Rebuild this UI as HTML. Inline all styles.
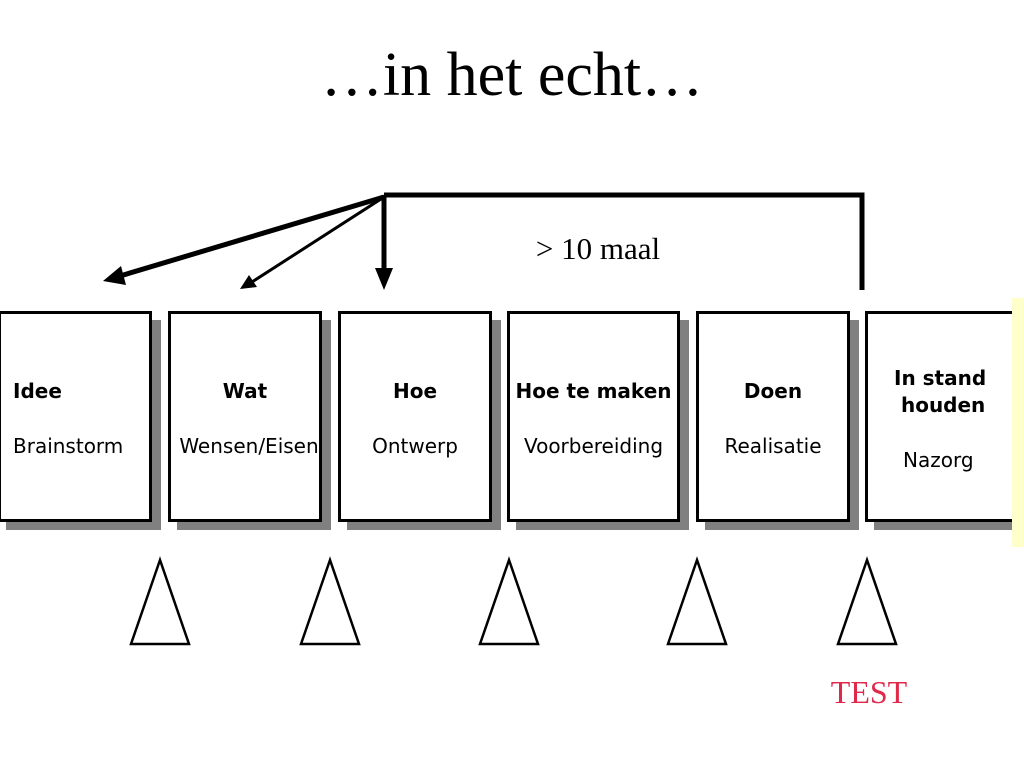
<!DOCTYPE html>
<html><head><meta charset="utf-8"><style>
body{margin:0;width:1024px;height:768px;background:#fff;position:relative;overflow:hidden;font-family:"DejaVu Sans","Liberation Sans",sans-serif}
.t{position:absolute;left:0;width:1024px;top:40px;text-align:center;font:62px "Liberation Serif",serif}
.sh{position:absolute;background:#808080}
.b{position:absolute;background:#fff;border:3px solid #000;box-sizing:border-box;text-align:center;font-size:20px;white-space:nowrap}
.b .h{position:absolute;left:0;right:0;top:65px;font-weight:bold}
.b .s{position:absolute;left:0;right:0;top:120px}
</style></head><body>
<div class="t">…in het echt…</div>
<div class="sh" style="left:6px;top:320px;width:155px;height:210px"></div>
<div class="sh" style="left:177px;top:320px;width:154px;height:210px"></div>
<div class="sh" style="left:347px;top:320px;width:154px;height:210px"></div>
<div class="sh" style="left:516px;top:320px;width:173px;height:210px"></div>
<div class="sh" style="left:705px;top:320px;width:154px;height:210px"></div>
<div class="sh" style="left:874px;top:320px;width:138px;height:210px"></div>
<div class="b" style="left:-2px;top:311px;width:154px;height:211px;text-align:left"><div class="h" style="left:12px">Idee</div><div class="s" style="left:12px">Brainstorm</div></div>
<div class="b" style="left:168px;top:311px;width:154px;height:211px"><div class="h">Wat</div><div class="s" style="left:-4px;right:-12px">Wensen/Eisen</div></div>
<div class="b" style="left:338px;top:311px;width:154px;height:211px"><div class="h">Hoe</div><div class="s">Ontwerp</div></div>
<div class="b" style="left:507px;top:311px;width:173px;height:211px"><div class="h">Hoe te maken</div><div class="s">Voorbereiding</div></div>
<div class="b" style="left:696px;top:311px;width:154px;height:211px"><div class="h">Doen</div><div class="s">Realisatie</div></div>
<div class="b" style="left:865px;top:311px;width:160px;height:211px;text-align:left"><div class="h" style="left:26px;top:51px;line-height:27px">In stand<br>&nbsp;houden</div><div class="s" style="left:35px;top:134px">Nazorg</div></div>
<div style="position:absolute;left:1012px;top:298px;width:12px;height:249px;background:#ffffcc"></div>
<svg width="1024" height="768" style="position:absolute;left:0;top:0">
<polyline points="384,195 862,195 862,290" fill="none" stroke="#000" stroke-width="5"/>
<line x1="384" y1="195" x2="384" y2="270" stroke="#000" stroke-width="5"/>
<polygon points="375,268 393,268 384,290" fill="#000"/>
<line x1="384" y1="197" x2="120" y2="276" stroke="#000" stroke-width="5"/>
<polygon points="103,281 121,266 126,285" fill="#000"/>
<line x1="384" y1="197" x2="252" y2="282" stroke="#000" stroke-width="3"/>
<polygon points="240,289 249,275 257,287" fill="#000"/>
<g fill="none" stroke="#000" stroke-width="2.5">
<polygon points="160,560 131,644 189,644"/><polygon points="330,560 301,644 359,644"/><polygon points="509,560 480,644 538,644"/><polygon points="697,560 668,644 726,644"/><polygon points="867,560 838,644 896,644"/></g>
<text x="598" y="259" text-anchor="middle" font-family="Liberation Serif,serif" font-size="31">&gt; 10 maal</text>
<text x="869" y="703" text-anchor="middle" font-family="Liberation Serif,serif" font-size="32" fill="#e0284a">TEST</text>
</svg>
</body></html>
